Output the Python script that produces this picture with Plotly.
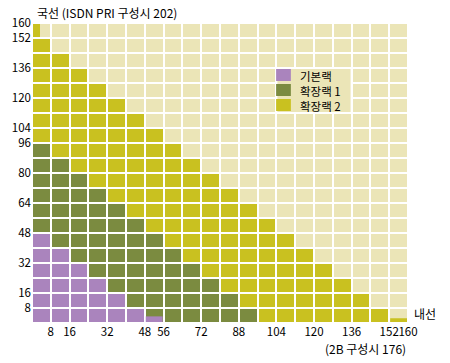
import plotly.graph_objects as go

# ---------------- data ----------------
# grid of 20 x 20 cells, each cell = 8 lines on each axis
cell = 8
n_cols = 20
n_rows = 20
# per row (bottom row first): number of full cells from the left that belong to each rack
# (cells are cumulative: purple first, then green up to green_end, then yellow up to yellow_end)
purple_end = [6, 5, 4, 3, 2, 1, 0, 0, 0, 0, 0, 0, 0, 0, 0, 0, 0, 0, 0, 0]
green_end = [12, 11, 10, 9, 8, 7, 6, 5, 4, 3, 2, 1, 0, 0, 0, 0, 0, 0, 0, 0]
yellow_end = [19, 18, 17, 16, 15, 14, 13, 12, 11, 10, 9, 8, 7, 6, 5, 4, 3, 2, 1, 0]

# partial (thin) pieces: (category, column, row, amount in lines, direction)
partials = [
    ("기본랙", 6, 0, 3, "v"),
    ("확장랙 2", 19, 0, 2, "v"),
    ("확장랙 2", 0, 19, 3, "h"),
]

x_ticks = [8, 16, 32, 48, 56, 72, 88, 104, 120, 136, 152, 160]
y_ticks = [8, 16, 32, 48, 64, 80, 96, 104, 120, 136, 152, 160]
categories = ["기본랙", "확장랙 1", "확장랙 2"]

# ---------------- style ----------------
W, H = 450, 363
ML, MR, MT, MB = 26, 42, 23, 40
PW, PH = W - ML - MR, H - MT - MB
GAP = 2
C_BG = "#ebe5b7"
COLORS = {"기본랙": "#aa84bd", "확장랙 1": "#7b8b40", "확장랙 2": "#c9c120"}
FONT = "Noto Sans CJK KR"
TICK_SIZE = 11.5

z = []
for r in range(n_rows):
    row = []
    for c in range(n_cols):
        if c < purple_end[r]:
            row.append(1)
        elif c < green_end[r]:
            row.append(2)
        elif c < yellow_end[r]:
            row.append(3)
        else:
            row.append(0)
    z.append(row)

centers = [cell * i + cell / 2 for i in range(n_cols)]
colorscale = [
    [0.0, C_BG], [0.25, C_BG],
    [0.25, COLORS["기본랙"]], [0.5, COLORS["기본랙"]],
    [0.5, COLORS["확장랙 1"]], [0.75, COLORS["확장랙 1"]],
    [0.75, COLORS["확장랙 2"]], [1.0, COLORS["확장랙 2"]],
]

fig = go.Figure()
fig.add_trace(go.Heatmap(
    z=z, x=centers, y=centers, zmin=-0.5, zmax=3.5,
    colorscale=colorscale, showscale=False, xgap=GAP, ygap=GAP,
    hoverinfo="skip",
))

# units per pixel
ux = cell * n_cols / PW
uy = cell * n_rows / PH
for cat, c, r, amt, d in partials:
    if d == "v":
        fig.add_trace(go.Bar(
            x=[c * cell + cell / 2], y=[amt], base=[r * cell + uy * GAP / 2],
            width=[cell - ux * GAP], marker=dict(color=COLORS[cat], line=dict(width=0)),
            showlegend=False, hoverinfo="skip",
        ))
    else:
        fig.add_trace(go.Bar(
            y=[r * cell + cell / 2], x=[amt], base=[c * cell + ux * GAP / 2],
            width=[cell - uy * GAP], orientation="h",
            marker=dict(color=COLORS[cat], line=dict(width=0)),
            showlegend=False, hoverinfo="skip",
        ))


def px(xp):
    return (xp - ML) / PW


def py(yp):
    return 1 - (yp - MT) / PH


shapes = []
# legend background block (covers 4 x 3 cells)
shapes.append(dict(type="rect", xref="x", yref="y", x0=104, x1=136, y0=112, y1=136,
                   fillcolor=C_BG, line=dict(color="white", width=2), layer="above"))
annotations = []
for i, cat in enumerate(categories):
    y0 = 69 + 15 * i
    shapes.append(dict(type="rect", xref="paper", yref="paper",
                       x0=px(274), x1=px(289), y0=py(y0 + 12), y1=py(y0),
                       fillcolor=COLORS[cat], line=dict(width=0), layer="above"))
    annotations.append(dict(text=cat, xref="paper", yref="paper", x=px(296), y=py(y0 + 6.5),
                            xanchor="left", yanchor="middle", showarrow=False,
                            font=dict(size=11.5, color="black", family=FONT)))

annotations.append(dict(text="국선 (ISDN PRI 구성시 202)", xref="paper", yref="paper",
                        x=px(29), y=py(13), xanchor="left", yanchor="middle", showarrow=False,
                        font=dict(size=12, color="black", family=FONT)))
annotations.append(dict(text="내선", xref="paper", yref="paper",
                        x=px(412), y=py(313), xanchor="left", yanchor="middle", showarrow=False,
                        font=dict(size=12, color="black", family=FONT)))
annotations.append(dict(text="(2B 구성시 176)", xref="paper", yref="paper",
                        x=px(365), y=py(348), xanchor="center", yanchor="middle", showarrow=False,
                        font=dict(size=12, color="black", family=FONT)))

fig.update_layout(
    width=W, height=H, margin=dict(l=ML, r=MR, t=MT, b=MB, pad=0),
    paper_bgcolor="white", plot_bgcolor="white", showlegend=False, barmode="overlay",
    font=dict(family=FONT, size=12, color="black"),
    shapes=shapes, annotations=annotations,
    xaxis=dict(range=[0, 160], tickvals=x_ticks, ticktext=[str(v) for v in x_ticks],
               showgrid=False, zeroline=False, showline=False, ticks="", tickangle=0,
               tickfont=dict(size=TICK_SIZE, family=FONT), fixedrange=True),
    yaxis=dict(range=[0, 160], tickvals=y_ticks, ticktext=[str(v) for v in y_ticks],
               showgrid=False, zeroline=False, showline=False, ticks="",
               tickfont=dict(size=TICK_SIZE, family=FONT), fixedrange=True),
)
fig.write_html("out.html", config={"displayModeBar": False},
               post_script="document.body.style.margin='0';document.body.style.overflow='hidden';")
